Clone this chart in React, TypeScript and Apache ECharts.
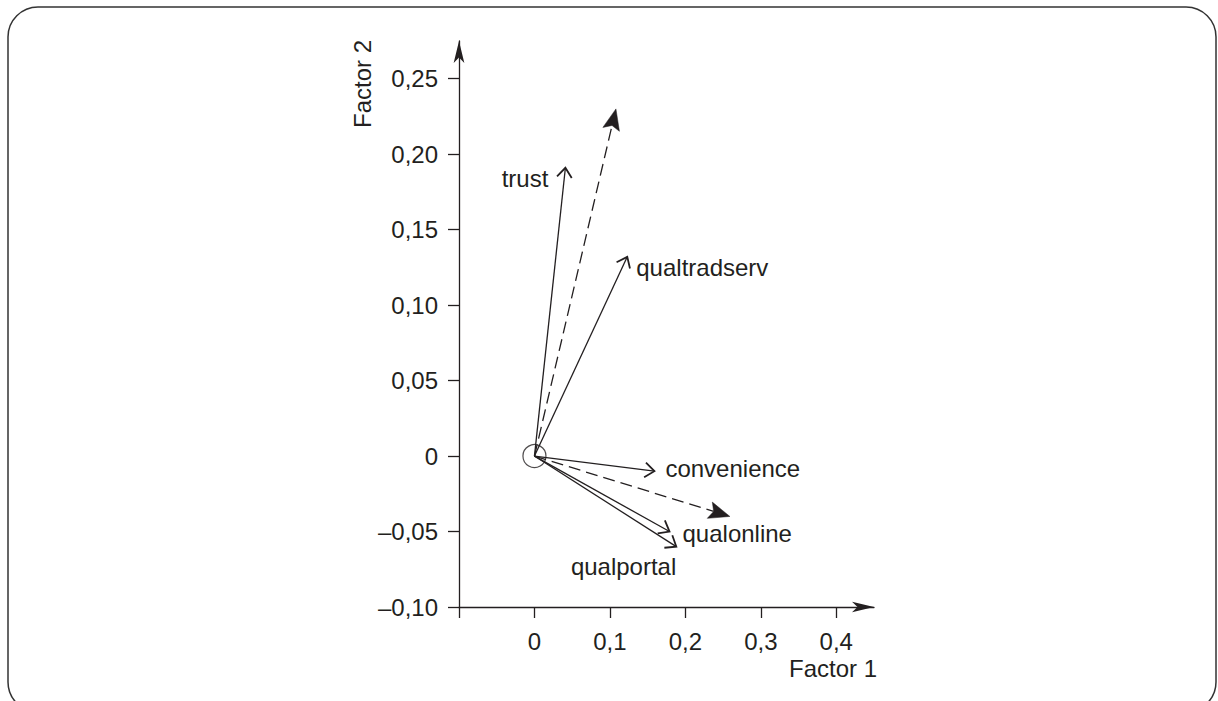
import React, { useEffect, useRef } from "react";
import * as echarts from "echarts";

// Variable loadings (solid arrows)
const variableNames = ["trust", "qualtradserv", "convenience", "qualonline", "qualportal"];
const factor1Loadings = [0.041, 0.123, 0.159, 0.179, 0.188];
const factor2Loadings = [0.191, 0.132, -0.01, -0.05, -0.06];

// Dashed (filled-head) arrows
const dashedFactor1 = [0.108, 0.259];
const dashedFactor2 = [0.23, -0.04];

// Axis ticks / labels
const xTickValues = [-0.1, 0, 0.1, 0.2, 0.3, 0.4];
const xLabelValues = [0, 0.1, 0.2, 0.3, 0.4];
const yTickValues = [-0.1, -0.05, 0, 0.05, 0.1, 0.15, 0.2, 0.25];

// label placement relative to arrow tip (style, not data)
const labelPlacement: Record<string, { dx: number; dy: number; align: string }> = {
  trust: { dx: -17, dy: 11, align: "right" },
  qualtradserv: { dx: 9, dy: 11, align: "left" },
  convenience: { dx: 11, dy: -3, align: "left" },
  qualonline: { dx: 13, dy: 2, align: "left" },
  qualportal: { dx: 0, dy: 20, align: "right" },
};

const INK = "#231f20";
const FONT = "'Liberation Sans', Arial, Helvetica, sans-serif";

function fmtY(v: number) {
  if (Math.abs(v) < 1e-9) return "0";
  return (v < 0 ? "\u2013" : "") + Math.abs(v).toFixed(2).replace(".", ",");
}
function fmtX(v: number) {
  if (Math.abs(v) < 1e-9) return "0";
  return (v < 0 ? "\u2013" : "") + Math.abs(v).toFixed(1).replace(".", ",");
}

export default function App() {
  const ref = useRef<HTMLDivElement>(null);
  useEffect(() => {
    document.body.style.margin = "0";
    const chart = echarts.init(ref.current!, null, { renderer: "svg" });

    const solidData = variableNames.map((n, i) => [factor1Loadings[i], factor2Loadings[i], n]);
    const dashedData = dashedFactor1.map((x, i) => [x, dashedFactor2[i]]);

    const solidRender = (params: any, api: any) => {
      const i = params.dataIndex;
      const p0 = api.coord([0, 0]);
      const p1 = api.coord([api.value(0), api.value(1)]);
      const name = variableNames[i];
      const dx = p1[0] - p0[0];
      const dy = p1[1] - p0[1];
      const len = Math.hypot(dx, dy);
      const ux = dx / len;
      const uy = dy / len;
      const L = 12;
      const a = (38 * Math.PI) / 180;
      const rot = (ang: number) => [
        p1[0] - L * (ux * Math.cos(ang) - uy * Math.sin(ang)),
        p1[1] - L * (ux * Math.sin(ang) + uy * Math.cos(ang)),
      ];
      const lp = labelPlacement[name];
      return {
        type: "group",
        children: [
          {
            type: "line",
            shape: { x1: p0[0], y1: p0[1], x2: p1[0], y2: p1[1] },
            style: { stroke: INK, lineWidth: 1.3 },
          },
          {
            type: "polyline",
            shape: { points: [rot(a), p1, rot(-a)] },
            style: { stroke: INK, lineWidth: 1.8, fill: null },
          },
          {
            type: "text",
            x: p1[0] + lp.dx,
            y: p1[1] + lp.dy,
            style: {
              text: name,
              fill: INK,
              font: `24px ${FONT}`,
              align: lp.align,
              verticalAlign: "middle",
            },
          },
        ],
      };
    };

    const dashedRender = (params: any, api: any) => {
      const p0 = api.coord([0, 0]);
      const p1 = api.coord([api.value(0), api.value(1)]);
      const dx = p1[0] - p0[0];
      const dy = p1[1] - p0[1];
      const len = Math.hypot(dx, dy);
      const ux = dx / len;
      const uy = dy / len;
      const H = 21;
      const W = 8.5;
      const bx = p1[0] - H * ux;
      const by = p1[1] - H * uy;
      return {
        type: "group",
        children: [
          {
            type: "line",
            shape: { x1: p0[0], y1: p0[1], x2: bx + 4 * ux, y2: by + 4 * uy },
            style: { stroke: INK, lineWidth: 1.3, lineDash: [12, 6] },
          },
          {
            type: "polygon",
            shape: {
              points: [
                p1,
                [bx - W * uy, by + W * ux],
                [bx + 4 * ux, by + 4 * uy],
                [bx + W * uy, by - W * ux],
              ],
            },
            style: { fill: INK, stroke: INK, lineWidth: 0.5 },
          },
        ],
      };
    };

    chart.setOption({
      animation: false,
      textStyle: { fontFamily: FONT },
      grid: { left: 459, top: 41, width: 415, height: 566 },
      xAxis: {
        type: "value",
        min: -0.1,
        max: 0.45,
        splitLine: { show: false },
        axisLine: {
          onZero: false,
          symbol: ["none", "arrow"],
          symbolSize: [8, 22],
          lineStyle: { color: INK, width: 1.3 },
        },
        axisTick: {
          show: true,
          length: 11,
          customValues: xTickValues,
          lineStyle: { color: INK, width: 1.3 },
        },
        axisLabel: {
          customValues: xLabelValues,
          formatter: fmtX,
          color: INK,
          fontSize: 24,
          fontFamily: FONT,
          margin: 22,
        },
      },
      yAxis: {
        type: "value",
        min: -0.1,
        max: 0.275,
        splitLine: { show: false },
        axisLine: {
          onZero: false,
          symbol: ["none", "arrow"],
          symbolSize: [8, 22],
          lineStyle: { color: INK, width: 1.3 },
        },
        axisTick: {
          show: true,
          length: 11,
          customValues: yTickValues,
          lineStyle: { color: INK, width: 1.3 },
        },
        axisLabel: {
          customValues: yTickValues,
          formatter: fmtY,
          color: INK,
          fontSize: 24,
          fontFamily: FONT,
          margin: 21,
        },
      },
      graphic: [
        {
          type: "rect",
          shape: { x: 8, y: 7, width: 1208, height: 705, r: 30 },
          style: { fill: "none", stroke: "#333", lineWidth: 1.5 },
          silent: true,
          z: -10,
        },
        {
          type: "text",
          x: 877,
          y: 668,
          style: {
            text: "Factor 1",
            fill: INK,
            font: `24px ${FONT}`,
            align: "right",
            verticalAlign: "middle",
          },
        },
        {
          type: "text",
          x: 362,
          y: 84,
          rotation: Math.PI / 2,
          style: {
            text: "Factor 2",
            fill: INK,
            font: `24px ${FONT}`,
            align: "center",
            verticalAlign: "middle",
          },
        },
      ],
      series: [
        {
          type: "scatter",
          data: [[0, 0]],
          symbol: "circle",
          symbolSize: 23,
          itemStyle: { color: "rgba(0,0,0,0)", borderColor: INK, borderWidth: 1.2 },
          silent: true,
          z: 1,
        },
        {
          type: "custom",
          data: solidData,
          encode: { x: 0, y: 1 },
          renderItem: solidRender,
          clip: false,
          silent: true,
          z: 3,
        },
        {
          type: "custom",
          data: dashedData,
          encode: { x: 0, y: 1 },
          renderItem: dashedRender,
          clip: false,
          silent: true,
          z: 3,
        },
      ],
    });
    return () => chart.dispose();
  }, []);
  return <div ref={ref} style={{ width: 1218, height: 701 }} />;
}
